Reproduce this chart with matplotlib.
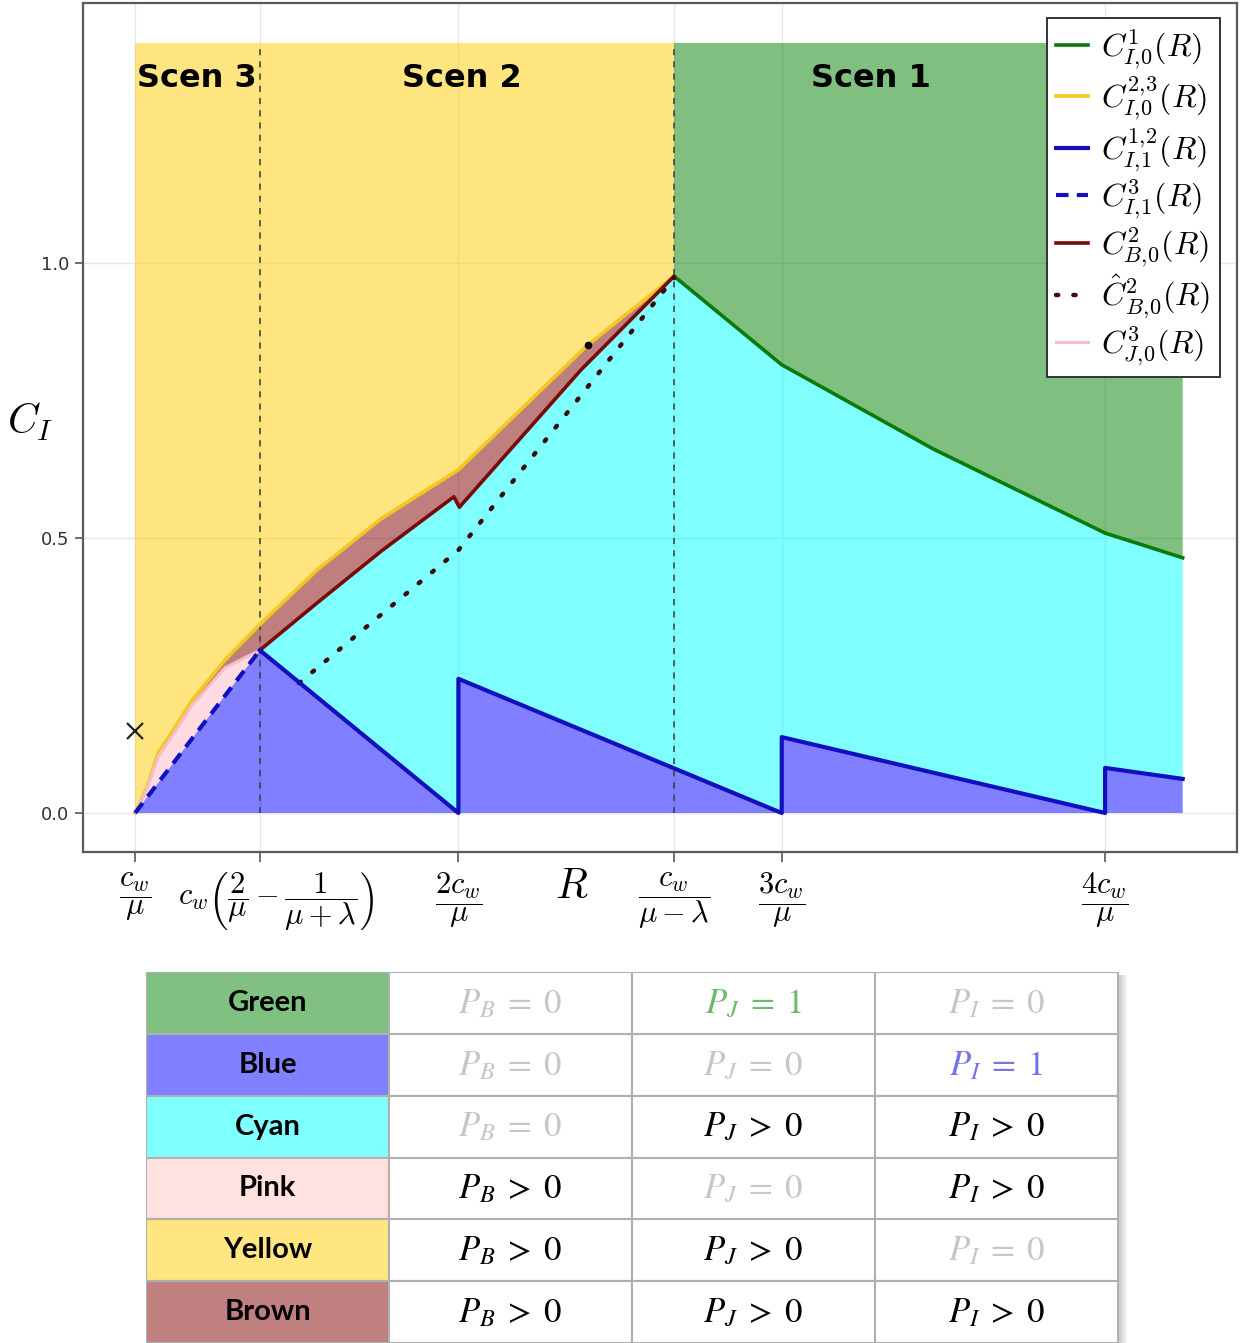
import numpy as np
import matplotlib.pyplot as plt
from matplotlib.patches import Rectangle
from matplotlib.transforms import ScaledTranslation

plt.rcParams['mathtext.fontset'] = 'cm'
plt.rcParams['font.family'] = ['DejaVu Sans']

# Oś R w jednostkach c_w/mu
x_ticks = [1.0, 1.386, 2.0, 2.667, 3.0, 4.0]
x_tick_labels = [r'$\dfrac{c_w}{\mu}$',
                 r'$c_w\left(\dfrac{2}{\mu}-\dfrac{1}{\mu+\lambda}\right)$',
                 r'$\dfrac{2c_w}{\mu}$',
                 r'$\dfrac{c_w}{\mu-\lambda}$',
                 r'$\dfrac{3c_w}{\mu}$',
                 r'$\dfrac{4c_w}{\mu}$']
y_ticks = [0.0, 0.5, 1.0]
y_top = 1.40

# C_I,0^1 (zielona)
green_x = [2.667, 3.0, 3.468, 4.0, 4.24]
green_y = [0.976, 0.815, 0.662, 0.509, 0.464]
# C_I,0^{2,3} (żółta)
yellow_x = [1.0, 1.037, 1.071, 1.124, 1.176, 1.278, 1.386, 1.563, 1.761, 2.0, 2.40, 2.667]
yellow_y = [0.0, 0.047, 0.109, 0.156, 0.205, 0.278, 0.343, 0.442, 0.535, 0.624, 0.851, 0.976]
# C_I,1^{1,2} (niebieska ciągła)
blue_x = [1.386, 2.0, 2.0, 3.0, 3.0, 4.0, 4.0, 4.24]
blue_y = [0.296, 0.0, 0.244, 0.0, 0.138, 0.0, 0.082, 0.062]
# C_I,1^3 (niebieska przerywana)
blue3_x = [1.0, 1.386]
blue3_y = [0.0, 0.296]
# C_B,0^2 (brązowa)
brown_x = [1.386, 1.563, 1.761, 1.986, 2.003, 2.378, 2.667]
brown_y = [0.296, 0.382, 0.476, 0.575, 0.556, 0.805, 0.976]
# \hat C_B,0^2 (kropkowana)
dot_x = [1.507, 2.0, 2.667]
dot_y = [0.236, 0.478, 0.973]
# C_J,0^3 (różowa)
pink_x = [1.0, 1.037, 1.071, 1.124, 1.176, 1.278, 1.386]
pink_y = [0.0, 0.044, 0.102, 0.148, 0.196, 0.264, 0.296]

# pojedyncze znaczniki
cross_pt = (1.0, 0.149)
dot_pt = (2.40, 0.851)

scen_labels = ['Scen 3', 'Scen 2', 'Scen 1']
scen_x = [1.192, 2.011, 3.276]

# Tabela
row_names = ['Green', 'Blue', 'Cyan', 'Pink', 'Yellow', 'Brown']
pb_vals = ['= 0', '= 0', '= 0', '> 0', '> 0', '> 0']
pj_vals = ['= 1', '= 0', '> 0', '= 0', '> 0', '> 0']
pi_vals = ['= 0', '= 1', '> 0', '> 0', '= 0', '> 0']

row_fill = ['#80c080', '#8080ff', '#80ffff', '#ffe2e0', '#ffe680', '#c08080']
one_color = {'Green': '#6cba6c', 'Blue': '#7474e6'}


def cat(*parts):
    return np.concatenate([np.asarray(p, dtype=float) for p in parts])


fig = plt.figure(figsize=(12.43, 13.43), dpi=100)
ax = fig.add_axes([83 / 1243, (1343 - 852) / 1343, (1237 - 83) / 1243, (852 - 3) / 1343])

# obszary (alpha 0.5 jak w oryginale)
a = 0.5
x_end = green_x[-1]
ax.fill(cat(yellow_x, [yellow_x[-1], yellow_x[0]]), cat(yellow_y, [y_top, y_top]),
        color='#ffcd00', alpha=a, lw=0, zorder=1)
ax.fill(cat(green_x, [x_end, green_x[0]]), cat(green_y, [y_top, y_top]),
        color='#008000', alpha=a, lw=0, zorder=1)
ax.fill(cat(yellow_x, brown_x[::-1], pink_x[::-1]), cat(yellow_y, brown_y[::-1], pink_y[::-1]),
        color='#800000', alpha=a, lw=0, zorder=1)
ax.fill(cat(pink_x, blue3_x[::-1]), cat(pink_y, blue3_y[::-1]),
        color='#ffc0cb', alpha=0.55, lw=0, zorder=1)
ax.fill(cat(blue_x, green_x[::-1], brown_x[::-1]), cat(blue_y, green_y[::-1], brown_y[::-1]),
        color='#00ffff', alpha=a, lw=0, zorder=1)
ax.fill(cat(blue3_x, blue_x, [x_end, blue3_x[0]]), cat(blue3_y, blue_y, [0, 0]),
        color='#0000ff', alpha=a, lw=0, zorder=1)

# pionowe linie podziału scenariuszy
for xv in [x_ticks[1], x_ticks[3]]:
    ax.plot([xv, xv], [0, y_top], color='#3a3a3a', lw=1.1, ls=(0, (4, 4)), zorder=3)

h_green, = ax.plot(green_x, green_y, color='#0a7a0a', lw=2.6, zorder=4,
                   label=r'$C^{1}_{I,\!0}(R)$')
h_yellow, = ax.plot(yellow_x, yellow_y, color='#f2c820', lw=2.6, zorder=4,
                    label=r'$C^{2,\!3}_{I,\!0}(R)$')
h_blue, = ax.plot(blue_x, blue_y, color='#1010c0', lw=3.0, zorder=5,
                  label=r'$C^{1,\!2}_{I,\!1}(R)$')
h_blue3, = ax.plot(blue3_x, blue3_y, color='#1010c0', lw=3.0, ls=(0, (3, 2)), zorder=5,
                   label=r'$C^{3}_{I,\!1}(R)$')
h_brown, = ax.plot(brown_x, brown_y, color='#7a0a0a', lw=2.6, zorder=4,
                   label=r'$C^{2}_{B,\!0}(R)$')
h_dot, = ax.plot(dot_x, dot_y, color='#3a0c0c', lw=3.2, ls=(0, (0.5, 3.4)),
                 dash_capstyle='round', zorder=4, label=r'$\hat{C}^{2}_{B,\!0}(R)$')
h_pink, = ax.plot(pink_x, pink_y, color='#f7bcc6', lw=2.2, zorder=4,
                  label=r'$C^{3}_{J,\!0}(R)$')

ax.plot(*cross_pt, marker='x', ms=12, mew=1.6, color='#222222', zorder=6)
ax.plot(*dot_pt, marker='o', ms=4.5, color='black', zorder=6)

for lab, xs in zip(scen_labels, scen_x):
    ax.text(xs, 1.336, lab, ha='center', va='center', fontsize=23,
            fontweight='bold', color='black', zorder=7)

ax.set_xlim(0.839, 4.408)
ax.set_ylim(-0.0709, 1.4727)
ax.set_xticks(x_ticks, x_tick_labels, fontsize=22)
ax.set_yticks(y_ticks, ['0.0', '0.5', '1.0'], fontsize=13, color='#333333')
ax.tick_params(axis='x', length=7, width=1.2, color='#555555', pad=6)
ax.tick_params(axis='y', length=6, width=1.2, color='#555555', pad=4)
ax.grid(True, color='#e6e6e6', lw=1.0, zorder=0)
ax.set_axisbelow(True)
for sp in ax.spines.values():
    sp.set_color('#5a5a5a')
    sp.set_linewidth(1.6)

# długa etykieta lekko przesunięta w prawo, jak w oryginale
lab2 = ax.get_xticklabels()[1]
lab2.set_transform(lab2.get_transform() + ScaledTranslation(0.16, 0, fig.dpi_scale_trans))

leg = ax.legend(handles=[h_green, h_yellow, h_blue, h_blue3, h_brown, h_dot, h_pink],
                loc='upper right', bbox_to_anchor=(1220 / 1243, 1 - 18 / 1343),
                bbox_transform=fig.transFigure, borderaxespad=0, fontsize=23,
                fancybox=False, framealpha=1, edgecolor='#333333', handlelength=1.0,
                handletextpad=0.4, labelspacing=0.12, borderpad=0.3)
leg.get_frame().set_linewidth(1.4)
leg.set_zorder(10)

fig.text(572 / 1243, 1 - 886 / 1343, r'$R$', fontsize=30, ha='center', va='center')
fig.text(30 / 1243, 1 - 422 / 1343, r'$C_I$', fontsize=30, ha='center', va='center')

# Tabela pod wykresem
tx = fig.add_axes([146 / 1243, 0, 990 / 1243, 371 / 1343])
tx.set_xlim(0, 990 / 243)
tx.set_ylim(6, 0)
tx.axis('off')

# cień z prawej strony
for k in range(6):
    tx.add_patch(Rectangle((4.0, 0.05), 0.006 * (k + 1), 6.0, color='#909090',
                           alpha=0.10, lw=0, zorder=0))

cols = [pb_vals, pj_vals, pi_vals]
letters = ['B', 'J', 'I']
for i, name in enumerate(row_names):
    tx.add_patch(Rectangle((0, i), 1, 1, facecolor=row_fill[i], edgecolor='#b0b0b0',
                           lw=1.5, zorder=1))
    tx.text(0.5, i + 0.5, name, ha='center', va='center', fontsize=21,
            fontweight='bold', family=['Lato', 'DejaVu Sans'], zorder=3)
    for j in range(3):
        tx.add_patch(Rectangle((j + 1, i), 1, 1, facecolor='white', edgecolor='#b0b0b0',
                               lw=1.5, zorder=1))
        val = cols[j][i]
        if val == '= 0':
            c = '#c6c6c6'
        elif val == '= 1':
            c = one_color.get(name, 'black')
        else:
            c = 'black'
        sym, num = val.split()
        tx.text(j + 1.5, i + 0.5, r'$P_%s\;%s\;%s$' % (letters[j], sym, num), ha='center',
                va='center', fontsize=25, color=c, math_fontfamily='stix', zorder=3)

fig.savefig('out.png', dpi=100)
